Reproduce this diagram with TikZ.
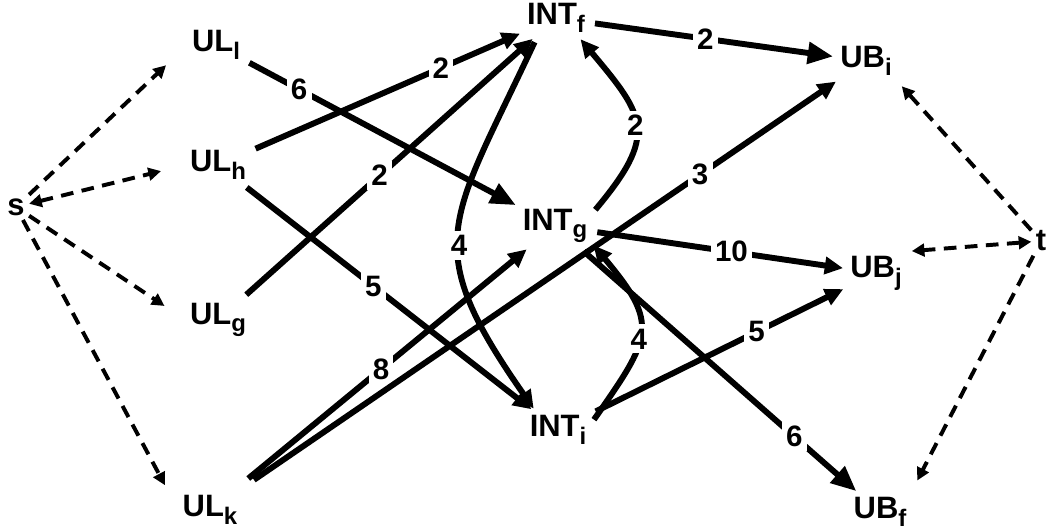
\documentclass[tikz,border=0pt]{standalone}
\usepackage{fontspec}
\setmainfont{Liberation Sans}
\usepackage{tikz}
\usetikzlibrary{arrows.meta}

\newcommand{\nsub}[1]{\raisebox{-5.5pt}{\fontsize{17}{17}\selectfont #1}}

\begin{document}
\begin{tikzpicture}[
    x=0.025cm, y=-0.025cm,
    vertex/.style={inner sep=3pt, font=\fontsize{22}{24}\selectfont\bfseries},
    weight/.style={fill=white, inner sep=3pt, font=\fontsize{21}{22}\selectfont\bfseries},
    arrow/.style={-{Triangle[length=13pt,width=12pt]}, line width=4.2pt, shorten >=2pt, shorten <=4pt},
    bigarrow/.style={-{Triangle[length=18pt,width=15pt]}, line width=4.2pt, shorten >=2pt, shorten <=4pt},
    dasharrow/.style={>={Triangle[length=9pt,width=9pt]}, ->, line width=2.8pt, dash pattern=on 9pt off 6pt}
  ]
    \useasboundingbox (0,0) rectangle (1048,531);

    \node[vertex] (s) at (16,207) {s};
    \node[vertex] (ull) at (216,45) {UL\nsub{l}};
    \node[vertex] (ulh) at (218,165) {UL\nsub{h}};
    \node[vertex] (ulg) at (218,320) {UL\nsub{g}};
    \node[vertex] (ulk) at (210,510) {UL\nsub{k}};
    \node[vertex] (intf) at (556,18) {INT\nsub{f}};
    \node[vertex] (intg) at (555,226) {INT\nsub{g}};
    \node[vertex] (inti) at (558,430) {INT\nsub{i}};
    \node[vertex] (ubi) at (866,61) {UB\nsub{i}};
    \node[vertex] (ubj) at (876,273) {UB\nsub{j}};
    \node[vertex] (ubf) at (880,512) {UB\nsub{f}};
    \node[vertex] (t) at (1041,241) {t};

    % source and sink
    \draw[dasharrow, shorten >=21pt] (s) -- (ull.west);
    \draw[dasharrow, <->, shorten >=18pt] (s) -- (ulh.west);
    \draw[dasharrow, shorten >=18pt] (s) -- (ulg.west);
    \draw[dasharrow, shorten >=20pt] (s) -- (ulk.west);
    \draw[dasharrow, shorten >=6pt] (t) -- (ubi.south east);
    \draw[dasharrow, <->, shorten >=4pt] (t) -- (ubj.north east);
    \draw[dasharrow, shorten >=10pt] (t) -- (ubf.north east);

    \draw[bigarrow] (ull) -- node[weight, pos=0.2] {6} (intg);
    \draw[arrow] (ulh) -- node[weight, pos=0.7] {2} (intf);
    \draw[arrow] (ulg) -- node[weight, pos=0.47] {2} (intf);
    \draw[arrow] (ulh) -- node[weight, pos=0.45] {5} (inti);
    \draw[arrow, shorten <=14pt] (ulk) -- node[weight, pos=0.5] {8} (intg);
    \draw[arrow, shorten <=14pt] (ulk) -- node[weight, pos=0.77] {3} (ubi);
    \draw[bigarrow] (intf) -- node[weight, pos=0.47] {2} (ubi);
    \draw[arrow] (intg) -- node[weight, pos=0.55] {10} (ubj);
    \draw[bigarrow] (intg) -- node[weight, pos=0.77] {6} (ubf);
    \draw[arrow] (inti) -- node[weight, pos=0.65] {5} (ubj);
    \draw[arrow] (intg.18) to[out=50, in=-50, looseness=1.5] node[weight] {2} (intf.-40);
    \draw[arrow] (intf.-135) to[out=-115, in=125, looseness=1.4] node[weight, pos=0.55] {4} (inti.140);
    \draw[arrow] (inti.10) to[out=55, in=-50, looseness=1.5] node[weight, pos=0.45] {4} (intg.-25);
\end{tikzpicture}
\end{document}
